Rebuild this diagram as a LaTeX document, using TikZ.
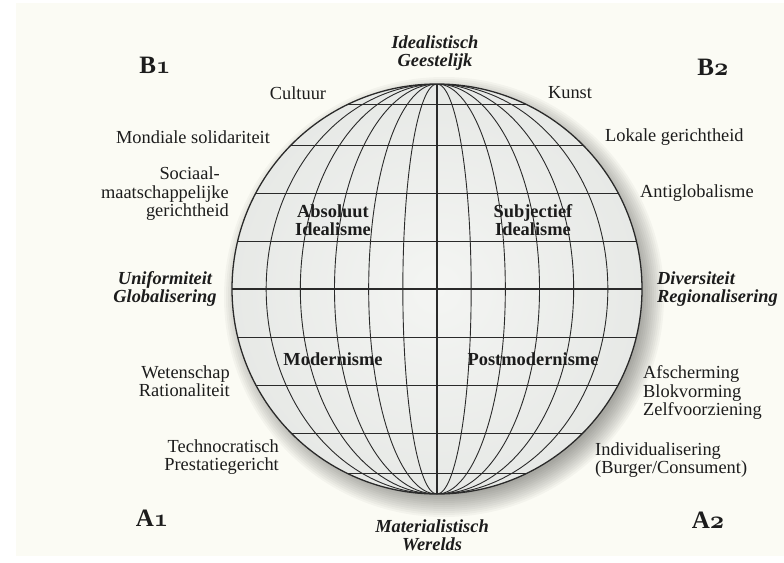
\RequirePackage{fix-cm}
\documentclass[tikz,border=0pt]{standalone}
\usepackage{fontspec}
\setmainfont{Liberation Serif}
\usetikzlibrary{calc}
\definecolor{ink}{HTML}{1C1C1C}
\definecolor{paper}{HTML}{FBFBF4}
\definecolor{gin}{HTML}{F4F5F3}
\definecolor{gout}{HTML}{C0C5C0}
\definecolor{gridc}{HTML}{2A2A2A}
\pgfdeclareradialshading{globeshade}{\pgfpoint{0bp}{0bp}}{color(0bp)=(gin); color(25bp)=(gin!75!gout); color(50bp)=(gout)}
\newcommand{\osone}{{\usefont{OML}{cmm}{b}{it}1}}
\newcommand{\ostwo}{{\usefont{OML}{cmm}{b}{it}2}}
\tikzset{
  lbl/.style={font=\fontsize{18.4}{18.5}\selectfont, text=ink, inner sep=0pt},
  bi/.style={lbl, font=\fontsize{18.4}{18.5}\selectfont\bfseries\itshape},
  bd/.style={lbl, font=\fontsize{18.4}{18.5}\selectfont\bfseries},
  corner/.style={lbl, font=\fontsize{25}{26}\selectfont\bfseries},
  gridline/.style={draw=gridc, line width=0.9pt}
}
\begin{document}
\begin{tikzpicture}[x=1pt,y=-1pt]
\useasboundingbox (0,0) rectangle (784,562);
\fill[white] (0,0) rectangle (784,562);
\fill[paper] (16,3) rectangle (784,556);
\coordinate (C) at (437,289);
% shadow
\foreach \i in {0,...,11}
  \fill[black,opacity=0.03] ($(C)+(7,8)$) circle ({(198+2*\i)*1pt});
% globe
\shade[shading=globeshade] (C) circle (205pt);
\begin{scope}
  \clip (C) circle (205pt);
  \foreach \dy in {-185,-144,-96,-48,48,96,144,184}
    \draw[gridline] ($(C)+(-210,\dy)$) -- ($(C)+(210,\dy)$);
  \foreach \k in {1,...,5}
    \draw[gridline] (C) ellipse [x radius={205pt*\k/6}, y radius=205pt];
\end{scope}
\draw[draw=gridc, line width=1.8pt] ($(C)+(0,-205)$) -- ($(C)+(0,205)$);
\draw[draw=gridc, line width=1.8pt] ($(C)+(-205,0)$) -- ($(C)+(205,0)$);
\draw[draw=gridc, line width=1.3pt] (C) circle (205pt);
% corner labels
\node[corner] (b1) at (155,65) {B\osone};
\node[corner] (b2) at (713,67) {B\ostwo};
\node[corner] (a1) at (152,518) {A\osone};
\node[corner] (a2) at (708,520) {A\ostwo};
% axis labels
\node[bi, align=center] (ideal) at (435,53) {Idealistisch\\Geestelijk};
\node[bi, align=center] (mat) at (432,535) {Materialistisch\\Werelds};
\node[bi, align=center] (unif) at (165,289) {Uniformiteit\\Globalisering};
\node[bi, align=left, anchor=west] (div) at (657,289) {Diversiteit\\Regionalisering};
% quadrant labels
\node[bd, align=center] (absid) at (333,220) {Absoluut\\Idealisme};
\node[bd, align=center] (subid) at (533,220) {Subjectief\\Idealisme};
\node[bd] (modern) at (333,359) {Modernisme};
\node[bd] (postmod) at (533,359) {Postmodernisme};
% side labels
\node[lbl] (cult) at (298,93) {Cultuur};
\node[lbl] (kunst) at (570,93) {Kunst};
\node[lbl] (mond) at (193,137) {Mondiale solidariteit};
\node[lbl, align=right, anchor=east] (soc) at (229,194) {Sociaal-\hspace*{9pt}\\maatschappelijke\\gerichtheid};
\node[lbl, anchor=west] (lok) at (605,137) {Lokale gerichtheid};
\node[lbl, anchor=west] (anti) at (640,193) {Antiglobalisme};
\node[lbl, align=right, anchor=east] (wet) at (230,381) {Wetenschap\\Rationaliteit};
\node[lbl, align=right, anchor=east] (tech) at (279,457) {Technocratisch\\Prestatiegericht};
\node[lbl, align=left, anchor=west] (afs) at (643,393) {Afscherming\\Blokvorming\\Zelfvoorziening};
\node[lbl, align=left, anchor=west] (indiv) at (595,460) {Individualisering\\(Burger/Consument)};
\end{tikzpicture}
\end{document}
